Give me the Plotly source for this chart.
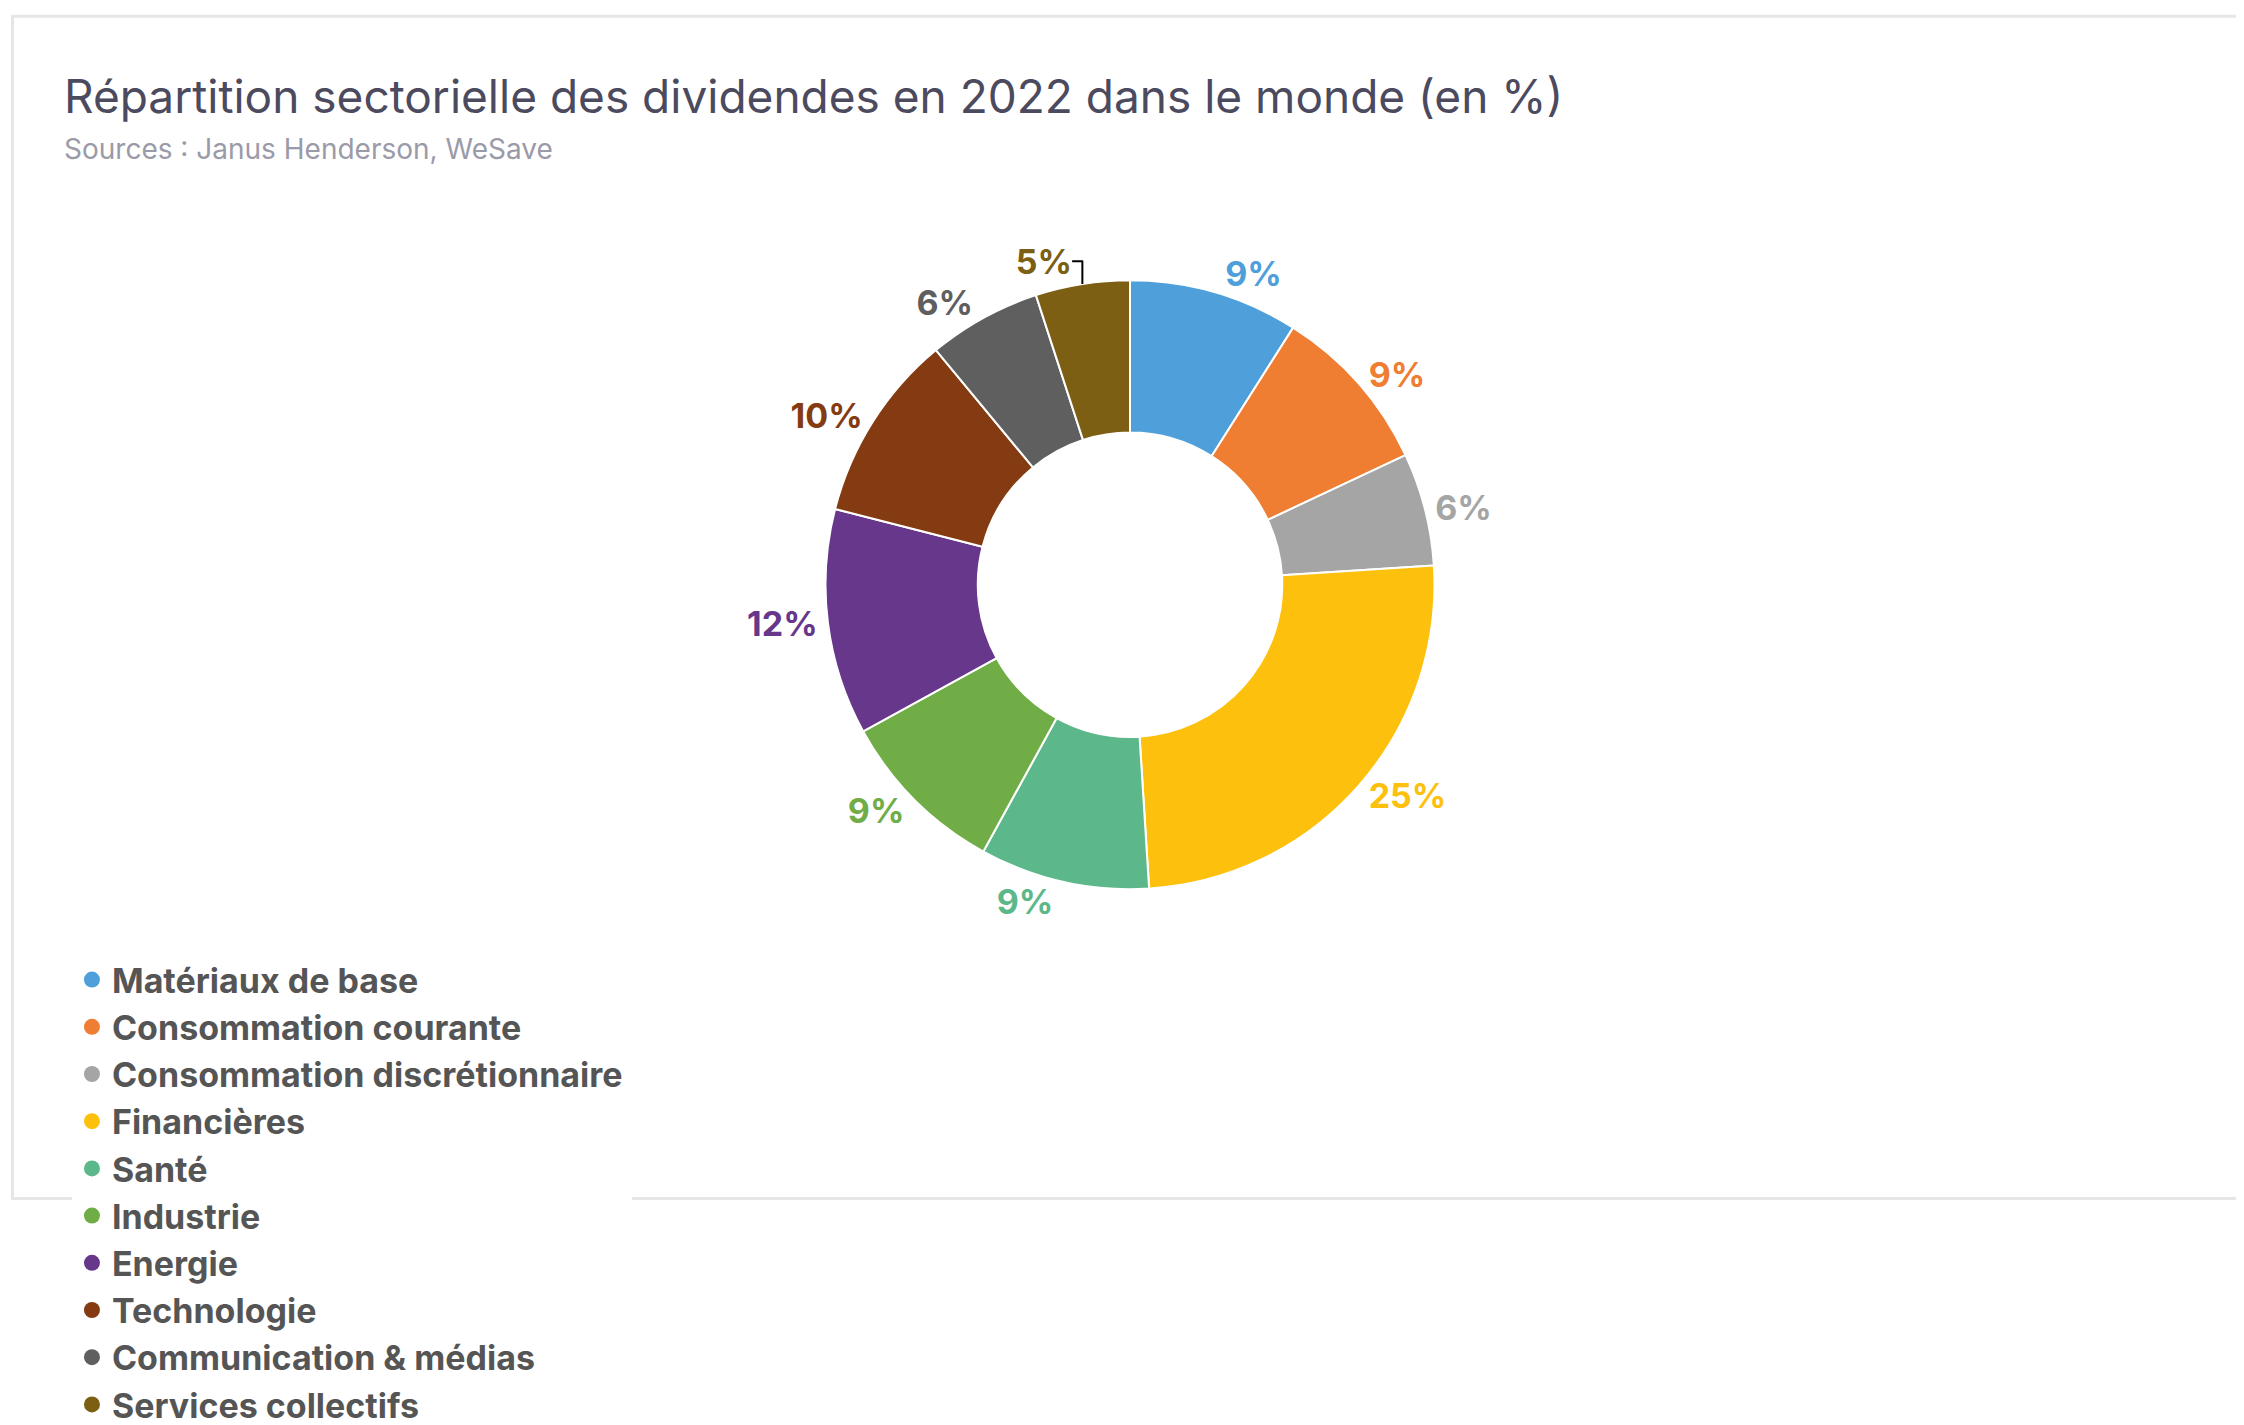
import plotly.graph_objects as go

sectors = ["Matériaux de base", "Consommation courante", "Consommation discrétionnaire",
           "Financières", "Santé", "Industrie", "Energie", "Technologie",
           "Communication & médias", "Services collectifs"]
shares = [9, 9, 6, 25, 9, 9, 12, 10, 6, 5]
colors = ["#4fa0da", "#ef7d32", "#a5a5a5", "#fcc00d", "#5cb88a", "#70ad47",
          "#67378c", "#843b12", "#5f5f5f", "#7d5f14"]

fig = go.Figure()
fig.add_trace(go.Pie(
    labels=sectors, values=shares, sort=False, direction="clockwise", rotation=0,
    hole=0.5, marker=dict(colors=colors, line=dict(color="white", width=2)),
    texttemplate="<b>%{value}%</b>", textposition="outside",
    outsidetextfont=dict(color=colors, size=34, family="Inter"),
    showlegend=False, hoverinfo="label+value",
    domain=dict(x=[0.313, 0.687], y=[0.262, 0.772]),
))
for name, c in zip(sectors, colors):
    fig.add_trace(go.Scatter(x=[None], y=[None], mode="markers", name=name,
                             marker=dict(symbol="circle", size=32, color=c)))

fig.update_layout(
    width=2244, height=1425, paper_bgcolor="white", plot_bgcolor="white",
    margin=dict(l=0, r=0, t=0, b=0),
    font=dict(family="Inter", color="#555555"),
    xaxis=dict(visible=False), yaxis=dict(visible=False),
    legend=dict(orientation="h", x=0.118, y=0.21, xanchor="left", yanchor="top",
                entrywidth=515, entrywidthmode="pixels", itemsizing="trace",
                font=dict(size=34, color="#555555", family="Inter", weight="bold"),
                tracegroupgap=0),
    annotations=[
        dict(text="Répartition sectorielle des dividendes en 2022 dans le monde (en %)",
             x=54 / 2244, y=1 - 105 / 1425, xref="paper", yref="paper",
             xanchor="left", yanchor="middle", showarrow=False,
             font=dict(size=46, color="#4b4a5e", family="Inter")),
        dict(text="Sources : Janus Henderson, WeSave",
             x=54 / 2244, y=1 - 168 / 1425, xref="paper", yref="paper",
             xanchor="left", yanchor="middle", showarrow=False,
             font=dict(size=28, color="#9b9aa8", family="Inter")),
    ],
    shapes=[dict(type="rect", xref="paper", yref="paper", x0=0.002, x1=0.998,
                 y0=0.003, y1=0.993, line=dict(color="#e6e6e6", width=3))],
)
fig.write_html("out.html")
